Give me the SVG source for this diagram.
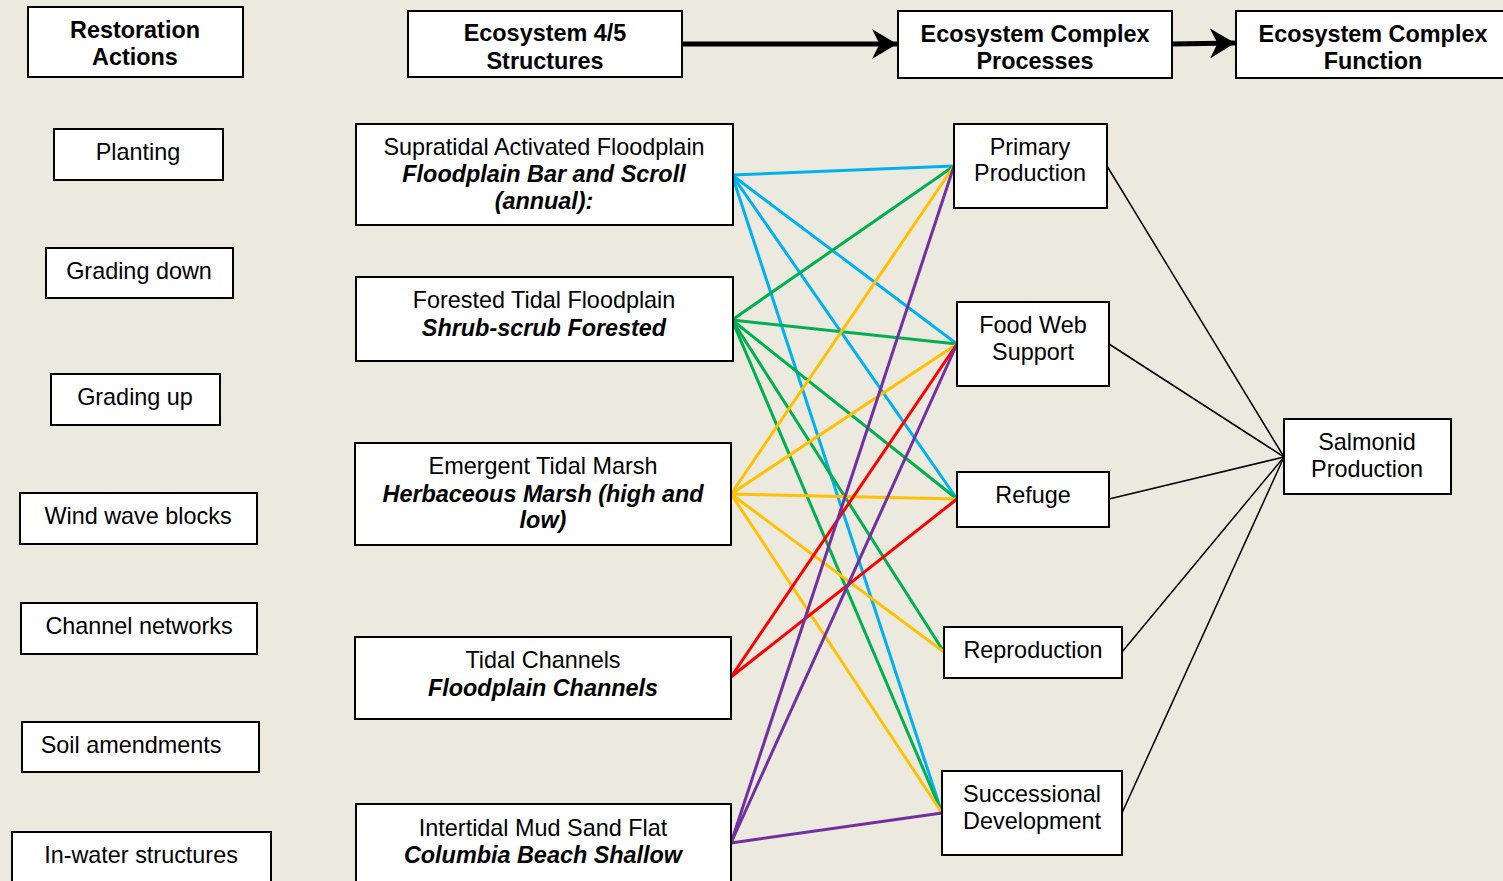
<svg xmlns="http://www.w3.org/2000/svg" width="1503" height="881" viewBox="0 0 1503 881">
<defs>
<style>
.bx{fill:#fff;stroke:#000;stroke-width:2}
text{font-family:"Liberation Sans",Arial,sans-serif;font-size:23.4px;fill:#000;text-anchor:middle}
.b{font-weight:bold}
.bi{font-weight:bold;font-style:italic}
.c{fill:none;stroke-width:3}
.blue{stroke:#00B0F0}.green{stroke:#00B050}.yellow{stroke:#FFC000}.red{stroke:#FF0000}.purple{stroke:#7030A0}
.k{stroke:#000;stroke-width:1.5;fill:none}
.arr{stroke:#000;stroke-width:5;fill:none}
</style>
<marker id="ah" viewBox="0 0 10 12" refX="10" refY="6" markerWidth="5" markerHeight="6" markerUnits="strokeWidth" orient="auto">
<path d="M0,0 L10,6 L0,12 L3,6 Z" fill="#000"/>
</marker>
</defs>
<rect width="1503" height="881" fill="#ECE9DF"/>

<g id="connectors">
<line class="arr" x1="682" y1="44" x2="897" y2="44" marker-end="url(#ah)"/>
<line class="arr" x1="1172" y1="44" x2="1235" y2="43" marker-end="url(#ah)"/>
<line class="c blue" x1="732" y1="175" x2="954" y2="166"/>
<line class="c blue" x1="732" y1="175" x2="957" y2="344"/>
<line class="c blue" x1="732" y1="175" x2="957" y2="499"/>
<line class="c blue" x1="732" y1="175" x2="942" y2="813"/>
<line class="c green" x1="732" y1="320" x2="954" y2="166"/>
<line class="c green" x1="732" y1="320" x2="957" y2="344"/>
<line class="c green" x1="732" y1="320" x2="957" y2="499"/>
<line class="c green" x1="732" y1="320" x2="944" y2="652"/>
<line class="c green" x1="732" y1="320" x2="942" y2="813"/>
<line class="c yellow" x1="731" y1="494" x2="954" y2="166"/>
<line class="c yellow" x1="731" y1="494" x2="957" y2="344"/>
<line class="c yellow" x1="731" y1="494" x2="957" y2="499"/>
<line class="c yellow" x1="731" y1="494" x2="944" y2="652"/>
<line class="c yellow" x1="731" y1="494" x2="942" y2="813"/>
<line class="c red" x1="731" y1="677" x2="957" y2="344"/>
<line class="c red" x1="731" y1="677" x2="957" y2="499"/>
<line class="c purple" x1="731" y1="843" x2="954" y2="166"/>
<line class="c purple" x1="731" y1="843" x2="957" y2="344"/>
<line class="c purple" x1="731" y1="843" x2="942" y2="813"/>
<line class="k" x1="1107" y1="166" x2="1284" y2="457"/>
<line class="k" x1="1109" y1="344" x2="1284" y2="457"/>
<line class="k" x1="1109" y1="499" x2="1284" y2="457"/>
<line class="k" x1="1122" y1="652" x2="1284" y2="457"/>
<line class="k" x1="1122" y1="813" x2="1284" y2="457"/>
</g>

<g id="restoration-actions"><rect class="bx" x="28" y="7" width="215" height="70"/><text class="b" x="135" y="38">Restoration</text><text class="b" x="135" y="65">Actions</text></g>
<g id="planting"><rect class="bx" x="54" y="129" width="169" height="51"/><text x="138" y="160">Planting</text></g>
<g id="grading-down"><rect class="bx" x="46" y="248" width="187" height="50"/><text x="139" y="279">Grading down</text></g>
<g id="grading-up"><rect class="bx" x="51" y="374" width="169" height="51"/><text x="135" y="405">Grading up</text></g>
<g id="wind-wave-blocks"><rect class="bx" x="20" y="493" width="237" height="51"/><text x="138" y="524">Wind wave blocks</text></g>
<g id="channel-networks"><rect class="bx" x="21" y="603" width="236" height="51"/><text x="139" y="634">Channel networks</text></g>
<g id="soil-amendments"><rect class="bx" x="22" y="722" width="237" height="50"/><text x="131" y="753">Soil amendments</text></g>
<g id="in-water-structures"><rect class="bx" x="12" y="832" width="259" height="60"/><text x="141" y="863">In-water structures</text></g>

<g id="ecosystem-structures"><rect class="bx" x="408" y="11" width="274" height="66"/><text class="b" x="545" y="41">Ecosystem 4/5</text><text class="b" x="545" y="69">Structures</text></g>
<g id="ecosystem-processes"><rect class="bx" x="898" y="11" width="274" height="67"/><text class="b" x="1035" y="42">Ecosystem Complex</text><text class="b" x="1035" y="69">Processes</text></g>
<g id="ecosystem-function"><rect class="bx" x="1236" y="11" width="280" height="67"/><text class="b" x="1373" y="42">Ecosystem Complex</text><text class="b" x="1373" y="69">Function</text></g>

<g id="supratidal"><rect class="bx" x="356" y="124" width="377" height="101"/><text x="544" y="155">Supratidal Activated Floodplain</text><text class="bi" x="544" y="182">Floodplain Bar and Scroll</text><text class="bi" x="544" y="209">(annual):</text></g>
<g id="forested"><rect class="bx" x="356" y="277" width="377" height="84"/><text x="544" y="308">Forested Tidal Floodplain</text><text class="bi" x="544" y="336">Shrub-scrub Forested</text></g>
<g id="emergent"><rect class="bx" x="355" y="443" width="376" height="102"/><text x="543" y="474">Emergent Tidal Marsh</text><text class="bi" x="543" y="502">Herbaceous Marsh (high and</text><text class="bi" x="543" y="528">low)</text></g>
<g id="tidal-channels"><rect class="bx" x="355" y="637" width="376" height="82"/><text x="543" y="668">Tidal Channels</text><text class="bi" x="543" y="696">Floodplain Channels</text></g>
<g id="intertidal"><rect class="bx" x="356" y="804" width="375" height="90"/><text x="543" y="836">Intertidal Mud Sand Flat</text><text class="bi" x="543" y="863">Columbia Beach Shallow</text></g>

<g id="primary-production"><rect class="bx" x="954" y="124" width="153" height="84"/><text x="1030" y="155">Primary</text><text x="1030" y="181">Production</text></g>
<g id="food-web-support"><rect class="bx" x="957" y="302" width="152" height="84"/><text x="1033" y="333">Food Web</text><text x="1033" y="360">Support</text></g>
<g id="refuge"><rect class="bx" x="957" y="472" width="152" height="55"/><text x="1033" y="503">Refuge</text></g>
<g id="reproduction"><rect class="bx" x="944" y="627" width="178" height="51"/><text x="1033" y="658">Reproduction</text></g>
<g id="successional"><rect class="bx" x="942" y="771" width="180" height="84"/><text x="1032" y="802">Successional</text><text x="1032" y="829">Development</text></g>
<g id="salmonid"><rect class="bx" x="1284" y="419" width="167" height="75"/><text x="1367" y="450">Salmonid</text><text x="1367" y="477">Production</text></g>
</svg>
